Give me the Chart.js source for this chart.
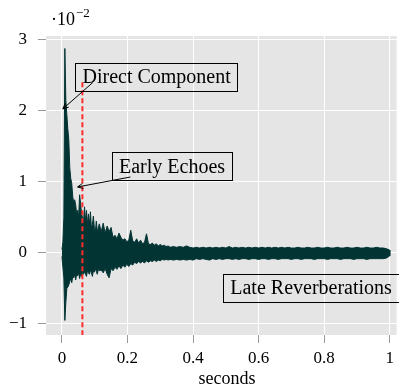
<!DOCTYPE html>
<html><head><meta charset="utf-8">
<script src="https://cdn.jsdelivr.net/npm/chart.js@4"></script>
<style>html,body{margin:0;padding:0;background:#fff;}canvas{display:block;}</style>
</head><body>
<canvas id="c" width="399" height="387"></canvas>
<script>
// Impulse response envelope (values in units of 10^-2)
const timeSec = [
  0.000,0.003,0.006,0.009,0.012,0.015,0.018,0.021,0.024,0.027,0.030,0.033,0.036,0.039,0.042,0.045,0.048,0.051,0.054,0.057,
  0.060,0.063,0.066,0.069,0.072,0.075,0.078,0.081,0.084,0.087,0.090,0.093,0.096,0.099,0.102,0.105,0.108,0.111,0.114,
  0.120,0.126,0.132,0.138,0.144,0.150,0.156,0.162,0.168,0.174,0.180,0.186,0.192,0.198,0.204,0.210,0.216,0.222,0.228,0.234,
  0.240,0.246,0.252,0.258,0.264,0.270,0.276,0.282,0.288,0.294,0.300,0.306,0.312,0.318,0.324,0.330,
  0.34,0.35,0.36,0.37,0.38,0.39,0.40,0.41,0.42,0.43,0.44,0.45,0.46,0.47,0.48,0.49,0.50,0.51,0.52,0.53,0.54,0.55,0.56,0.57,
  0.58,0.59,0.60,0.61,0.62,0.63,0.64,0.65,0.66,0.67,0.68,0.69,0.70,0.71,0.72,0.73,0.74,0.75,0.76,0.77,0.78,0.79,0.80,
  0.81,0.82,0.83,0.84,0.85,0.86,0.87,0.88,0.89,0.90,0.91,0.92,0.93,0.94,0.95,0.96,0.97,0.98,0.99,1.00
];
const upperEnv = [
  0.05,0.15,0.5,2.88,2.15,1.95,1.75,1.6,1.2,1.05,0.98,0.8,0.7,0.75,0.68,0.55,0.6,0.5,0.82,0.7,
  0.55,0.5,0.45,0.65,0.45,0.6,0.4,0.55,0.4,0.58,0.35,0.4,0.52,0.35,0.3,0.45,0.3,0.35,0.41,
  0.3,0.42,0.28,0.38,0.3,0.36,0.22,0.25,0.2,0.28,0.22,0.18,0.2,0.16,0.18,0.32,0.17,0.15,0.2,0.14,
  0.18,0.13,0.15,0.27,0.13,0.12,0.14,0.11,0.13,0.1,0.12,0.1,0.11,0.09,0.1,0.08,
  0.09,0.08,0.09,0.08,0.1,0.08,0.07,0.08,0.07,0.08,0.07,0.08,0.07,0.08,0.07,0.08,0.07,0.09,0.07,0.08,0.07,0.08,0.07,0.08,
  0.07,0.08,0.07,0.08,0.07,0.08,0.07,0.08,0.07,0.08,0.07,0.08,0.07,0.07,0.08,0.07,0.07,0.08,0.07,0.07,0.08,0.07,0.07,
  0.08,0.07,0.07,0.08,0.07,0.07,0.08,0.07,0.07,0.08,0.07,0.07,0.08,0.07,0.07,0.08,0.07,0.07,0.06,0.04
];
const lowerEnv = [
  -0.05,-0.2,-0.35,-0.95,-0.7,-0.5,-0.48,-0.45,-0.4,-0.36,-0.42,-0.33,-0.35,-0.3,-0.38,-0.3,-0.32,-0.28,-0.36,-0.3,
  -0.33,-0.27,-0.3,-0.26,-0.3,-0.33,-0.25,-0.28,-0.3,-0.24,-0.28,-0.33,-0.25,-0.27,-0.22,-0.26,-0.3,-0.23,-0.25,
  -0.24,-0.28,-0.22,-0.3,-0.35,-0.22,-0.25,-0.2,-0.23,-0.18,-0.22,-0.17,-0.2,-0.16,-0.19,-0.15,-0.17,-0.13,-0.15,-0.12,
  -0.14,-0.12,-0.14,-0.11,-0.13,-0.11,-0.12,-0.1,-0.12,-0.1,-0.11,-0.09,-0.1,-0.09,-0.1,-0.09,
  -0.1,-0.09,-0.1,-0.09,-0.1,-0.09,-0.1,-0.08,-0.09,-0.08,-0.09,-0.1,-0.08,-0.09,-0.08,-0.09,-0.08,-0.08,-0.09,-0.08,-0.09,-0.08,-0.08,-0.09,
  -0.08,-0.08,-0.09,-0.08,-0.08,-0.09,-0.08,-0.08,-0.09,-0.08,-0.08,-0.08,-0.09,-0.08,-0.08,-0.09,-0.08,-0.08,-0.08,-0.09,-0.08,-0.08,-0.08,
  -0.09,-0.08,-0.08,-0.08,-0.09,-0.08,-0.08,-0.08,-0.09,-0.08,-0.08,-0.08,-0.09,-0.08,-0.08,-0.08,-0.08,-0.08,-0.07,-0.04
];
const markerTime = 0.0625;          // red dashed marker (seconds)
const markerSpan = [-1.16, 2.42];   // its extent (10^-2)
const xTickValues = [0, 0.2, 0.4, 0.6, 0.8, 1];
const yTickValues = [-1, 0, 1, 2, 3];
const xTitle = 'seconds';
const annotationTexts = ['Direct Component', 'Early Echoes', 'Late Reverberations'];
const annotationCenters = [[0.289, 2.48], [0.336, 1.22], [0.76, -0.49]];
const annotationArrows = [[[0.094, 2.40], [0.003, 2.03]], [[0.209, 1.07], [0.048, 0.93]], null];

const SERIF = '"Liberation Serif", "DejaVu Serif", serif';
const sigColor = '#033434';

// closed envelope outline: upper edge left->right, then lower edge right->left
const envelopePts = timeSec.map((t, i) => ({x: t, y: upperEnv[i]}))
  .concat(timeSec.map((t, i) => ({x: t, y: lowerEnv[i]})).reverse());

const decor = {
  id: 'decor',
  beforeDraw(chart) {
    const {ctx, chartArea: a} = chart;
    ctx.save();
    ctx.fillStyle = '#e5e5e5';
    ctx.fillRect(a.left, a.top, a.right - a.left, a.bottom - a.top);
    ctx.restore();
  },
  afterDatasetsDraw(chart) {
    const {ctx, scales: {x, y}} = chart;
    ctx.save();
    ctx.strokeStyle = '#000';
    ctx.fillStyle = '#000';
    ctx.lineWidth = 1;
    annotationArrows.forEach(ar => {
      if (!ar) return;
      const x1 = x.getPixelForValue(ar[0][0]), y1 = y.getPixelForValue(ar[0][1]);
      const x2 = x.getPixelForValue(ar[1][0]), y2 = y.getPixelForValue(ar[1][1]);
      ctx.beginPath(); ctx.moveTo(x1, y1); ctx.lineTo(x2, y2); ctx.stroke();
      const ang = Math.atan2(y2 - y1, x2 - x1);
      const L = 6;
      ctx.beginPath();
      ctx.moveTo(x2 - L * Math.cos(ang - 0.45), y2 - L * Math.sin(ang - 0.45));
      ctx.lineTo(x2, y2);
      ctx.lineTo(x2 - L * Math.cos(ang + 0.45), y2 - L * Math.sin(ang + 0.45));
      ctx.stroke();
    });
    ctx.font = '20px ' + SERIF;
    ctx.textAlign = 'center';
    ctx.textBaseline = 'middle';
    annotationTexts.forEach((txt, i) => {
      const cx = x.getPixelForValue(annotationCenters[i][0]);
      const cy = y.getPixelForValue(annotationCenters[i][1]);
      const w = ctx.measureText(txt).width + 14;
      const h = 28;
      const l = Math.round(cx - w / 2) + 0.5, t = Math.round(cy - h / 2) + 0.5;
      ctx.strokeRect(l, t, Math.round(w), h);
      ctx.fillText(txt, cx, cy + 1);
    });
    ctx.restore();
  },
  afterDraw(chart) {
    const {ctx} = chart;
    ctx.save();
    ctx.fillStyle = '#000';
    ctx.textBaseline = 'alphabetic';
    ctx.textAlign = 'left';
    ctx.font = '18px ' + SERIF;
    ctx.fillText('\u00b710', 51, 25);
    ctx.font = '13px ' + SERIF;
    ctx.fillText('\u22122', 76, 17);
    ctx.font = '18px ' + SERIF;
    ctx.textAlign = 'center';
    ctx.textBaseline = 'middle';
    ctx.fillText(xTitle, 227, 379);
    ctx.restore();
  }
};

new Chart(document.getElementById('c'), {
  type: 'line',
  data: {
    datasets: [
      {data: [{x: markerTime, y: markerSpan[0]}, {x: markerTime, y: markerSpan[1]}],
       borderColor: '#ff2b2b', borderWidth: 2, borderDash: [5, 3], pointRadius: 0, fill: false, order: 0},
      {data: envelopePts, borderColor: sigColor, backgroundColor: sigColor, borderWidth: 1,
       pointRadius: 0, stepped: false, tension: 0, fill: 'shape', order: 1}
    ]
  },
  options: {
    responsive: false,
    animation: false,
    devicePixelRatio: 1,
    layout: {padding: {top: 36, left: 0, right: 0, bottom: 0}, autoPadding: false},
    plugins: {legend: {display: false}, tooltip: {enabled: false}},
    scales: {
      x: {
        type: 'linear', min: -0.0485, max: 1.021,
        afterFit: s => { s.height = 52; },
        afterBuildTicks: s => { s.ticks = xTickValues.map(v => ({value: v})); },
        grid: {color: '#ffffff', lineWidth: 1, tickColor: '#999', tickLength: 8},
        border: {display: false},
        ticks: {padding: 5, color: '#000', font: {family: SERIF, size: 17}, maxRotation: 0, autoSkip: false,
                callback: v => String(v).replace('-', '\u2212')}
      },
      y: {
        type: 'linear', min: -1.155, max: 3.056,
        afterFit: s => { s.width = 46; },
        afterBuildTicks: s => { s.ticks = yTickValues.map(v => ({value: v})); },
        grid: {color: '#ffffff', lineWidth: 1, tickColor: '#999', tickLength: 8},
        border: {display: false},
        ticks: {padding: 11, color: '#000', font: {family: SERIF, size: 17}, autoSkip: false,
                callback: v => String(v).replace('-', '\u2212')}
      }
    }
  },
  plugins: [decor]
});
</script>
</body></html>
